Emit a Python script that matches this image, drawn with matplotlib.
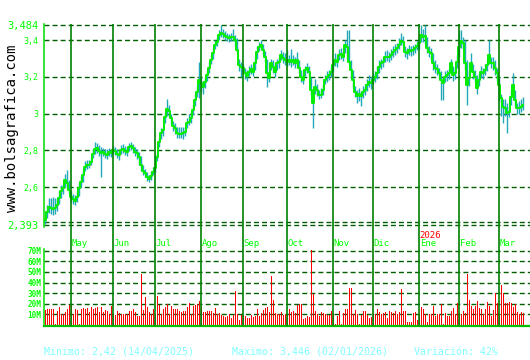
import matplotlib
matplotlib.use("Agg")
import matplotlib.pyplot as plt
import matplotlib.transforms as mtransforms
import numpy as np

# one trading day per entry, mid April 2025 -> mid March 2026
closes = [
    2.420, 2.465, 2.493, 2.484, 2.478, 2.484, 2.502, 2.538, 2.580, 2.593,
    2.638, 2.624, 2.584, 2.544, 2.535, 2.525, 2.547, 2.593, 2.629, 2.666,
    2.711, 2.720, 2.720, 2.738, 2.780, 2.806, 2.811, 2.798, 2.787, 2.793,
    2.780, 2.775, 2.793, 2.787, 2.802, 2.796, 2.780, 2.775, 2.802, 2.806,
    2.798, 2.793, 2.820, 2.824, 2.811, 2.793, 2.784, 2.765, 2.720, 2.689,
    2.678, 2.653, 2.642, 2.660, 2.684, 2.702, 2.765, 2.847, 2.893, 2.911,
    2.983, 3.024, 3.016, 2.975, 2.933, 2.920, 2.893, 2.889, 2.889, 2.893,
    2.902, 2.947, 2.956, 2.975, 3.020, 3.074, 3.120, 3.184, 3.166, 3.147,
    3.174, 3.211, 3.247, 3.293, 3.329, 3.374, 3.392, 3.429, 3.441, 3.434,
    3.423, 3.416, 3.411, 3.416, 3.420, 3.402, 3.347, 3.265, 3.256, 3.247,
    3.220, 3.205, 3.229, 3.242, 3.229, 3.275, 3.338, 3.365, 3.374, 3.347,
    3.311, 3.220, 3.193, 3.275, 3.256, 3.229, 3.275, 3.283, 3.320, 3.302,
    3.293, 3.283, 3.293, 3.283, 3.293, 3.275, 3.293, 3.247, 3.202, 3.184,
    3.238, 3.247, 3.229, 3.129, 3.056, 3.147, 3.129, 3.102, 3.102, 3.129,
    3.184, 3.198, 3.211, 3.229, 3.265, 3.293, 3.283, 3.320, 3.325, 3.311,
    3.374, 3.365, 3.283, 3.238, 3.184, 3.120, 3.096, 3.107, 3.096, 3.120,
    3.129, 3.156, 3.174, 3.166, 3.184, 3.198, 3.220, 3.256, 3.275, 3.283,
    3.307, 3.311, 3.307, 3.320, 3.338, 3.347, 3.356, 3.374, 3.398, 3.392,
    3.338, 3.329, 3.347, 3.343, 3.347, 3.356, 3.369, 3.384, 3.429, 3.420,
    3.423, 3.356, 3.338, 3.329, 3.275, 3.247, 3.242, 3.223, 3.184, 3.166,
    3.202, 3.211, 3.220, 3.275, 3.211, 3.220, 3.283, 3.365, 3.398, 3.384,
    3.275, 3.156, 3.193, 3.275, 3.229, 3.202, 3.138, 3.184, 3.229, 3.220,
    3.238, 3.265, 3.320, 3.275, 3.275, 3.247, 3.220, 3.156, 3.084, 3.035,
    3.029, 3.002, 3.011, 3.092, 3.156, 3.074, 3.029, 3.029, 3.035, 3.047,
]

highs = [
    2.440, 2.500, 2.540, 2.540, 2.545, 2.540, 2.540, 2.580, 2.610, 2.615,
    2.670, 2.693, 2.640, 2.580, 2.560, 2.555, 2.580, 2.630, 2.660, 2.690,
    2.740, 2.750, 2.750, 2.765, 2.810, 2.845, 2.840, 2.830, 2.820, 2.815,
    2.810, 2.805, 2.815, 2.810, 2.825, 2.820, 2.810, 2.800, 2.830, 2.835,
    2.825, 2.820, 2.840, 2.845, 2.835, 2.820, 2.810, 2.790, 2.770, 2.720,
    2.700, 2.680, 2.665, 2.685, 2.710, 2.720, 2.790, 2.870, 2.920, 2.930,
    3.010, 3.080, 3.050, 3.000, 2.960, 2.950, 2.930, 2.930, 2.925, 2.925,
    2.930, 2.975, 3.000, 3.010, 3.050, 3.110, 3.150, 3.283, 3.200, 3.180,
    3.200, 3.240, 3.280, 3.320, 3.360, 3.400, 3.420, 3.455, 3.483, 3.460,
    3.450, 3.440, 3.435, 3.440, 3.460, 3.430, 3.410, 3.300, 3.280, 3.270,
    3.250, 3.240, 3.260, 3.270, 3.260, 3.310, 3.370, 3.390, 3.400, 3.380,
    3.340, 3.300, 3.230, 3.300, 3.290, 3.270, 3.300, 3.310, 3.345, 3.335,
    3.330, 3.345, 3.320, 3.350, 3.320, 3.310, 3.335, 3.290, 3.240, 3.220,
    3.260, 3.275, 3.260, 3.200, 3.080, 3.190, 3.160, 3.130, 3.140, 3.160,
    3.210, 3.230, 3.240, 3.260, 3.300, 3.330, 3.320, 3.350, 3.360, 3.340,
    3.400, 3.456, 3.456, 3.290, 3.240, 3.150, 3.130, 3.140, 3.125, 3.150,
    3.160, 3.190, 3.210, 3.200, 3.220, 3.230, 3.260, 3.290, 3.300, 3.310,
    3.340, 3.345, 3.335, 3.355, 3.370, 3.380, 3.385, 3.410, 3.440, 3.425,
    3.370, 3.360, 3.375, 3.370, 3.375, 3.380, 3.395, 3.420, 3.484, 3.460,
    3.484, 3.420, 3.370, 3.360, 3.330, 3.290, 3.270, 3.250, 3.230, 3.200,
    3.230, 3.240, 3.250, 3.300, 3.260, 3.250, 3.320, 3.456, 3.456, 3.420,
    3.400, 3.290, 3.230, 3.330, 3.270, 3.240, 3.210, 3.220, 3.260, 3.250,
    3.270, 3.290, 3.400, 3.310, 3.310, 3.290, 3.250, 3.200, 3.110, 3.080,
    3.080, 3.060, 3.040, 3.130, 3.220, 3.130, 3.060, 3.070, 3.080, 3.090,
]

lows = [
    2.400, 2.430, 2.460, 2.455, 2.450, 2.455, 2.470, 2.510, 2.540, 2.560,
    2.600, 2.590, 2.560, 2.520, 2.510, 2.500, 2.520, 2.550, 2.600, 2.630,
    2.690, 2.700, 2.705, 2.720, 2.760, 2.780, 2.785, 2.770, 2.656, 2.770,
    2.760, 2.755, 2.770, 2.765, 2.780, 2.775, 2.760, 2.750, 2.780, 2.785,
    2.775, 2.770, 2.795, 2.800, 2.785, 2.770, 2.755, 2.720, 2.690, 2.665,
    2.655, 2.635, 2.630, 2.640, 2.665, 2.680, 2.740, 2.820, 2.860, 2.880,
    2.950, 2.990, 2.980, 2.940, 2.905, 2.890, 2.870, 2.865, 2.870, 2.860,
    2.880, 2.920, 2.940, 2.950, 2.995, 3.040, 3.090, 3.084, 3.120, 3.110,
    3.140, 3.180, 3.220, 3.270, 3.300, 3.350, 3.370, 3.400, 3.420, 3.410,
    3.400, 3.395, 3.390, 3.395, 3.395, 3.370, 3.330, 3.230, 3.200, 3.220,
    3.190, 3.180, 3.205, 3.215, 3.205, 3.240, 3.300, 3.340, 3.350, 3.320,
    3.280, 3.147, 3.170, 3.240, 3.220, 3.200, 3.240, 3.250, 3.290, 3.275,
    3.265, 3.260, 3.265, 3.255, 3.265, 3.250, 3.265, 3.220, 3.170, 3.160,
    3.205, 3.220, 3.200, 3.100, 2.920, 3.110, 3.095, 3.080, 3.085, 3.100,
    3.160, 3.170, 3.185, 3.200, 3.235, 3.260, 3.255, 3.290, 3.300, 3.285,
    3.330, 3.300, 3.270, 3.200, 3.140, 3.090, 3.060, 3.070, 3.040, 3.085,
    3.100, 3.125, 3.145, 3.135, 3.160, 3.170, 3.190, 3.220, 3.245, 3.255,
    3.280, 3.285, 3.280, 3.295, 3.310, 3.320, 3.330, 3.350, 3.375, 3.370,
    3.310, 3.300, 3.320, 3.315, 3.320, 3.330, 3.345, 3.355, 3.390, 3.390,
    3.380, 3.330, 3.310, 3.290, 3.240, 3.220, 3.210, 3.190, 3.074, 3.074,
    3.170, 3.180, 3.190, 3.230, 3.180, 3.190, 3.250, 3.310, 3.360, 3.350,
    3.240, 3.047, 3.150, 3.230, 3.190, 3.170, 3.110, 3.150, 3.195, 3.190,
    3.210, 3.235, 3.270, 3.250, 3.240, 3.210, 3.180, 3.070, 2.990, 2.948,
    2.990, 2.893, 2.980, 3.050, 3.100, 3.040, 3.000, 3.000, 3.010, 3.020,
]

# volume in millions of shares
volumes = [
    13.8, 14.8, 14.8, 14.8, 14.8, 0.5, 13.2, 16.7, 10.7, 10.0,
    12.3, 14.8, 18.6, 19.2, 10.7, 14.8, 13.8, 0.5, 14.8, 15.7,
    14.8, 15.7, 12.3, 16.7, 14.8, 16.4, 16.7, 12.3, 16.7, 12.3,
    13.8, 12.9, 10.0, 17.6, 10.0, 9.7, 13.2, 11.3, 10.0, 10.0,
    10.0, 10.7, 12.9, 12.9, 14.8, 11.9, 8.2, 8.2, 47.8, 13.8,
    26.1, 16.7, 11.9, 10.0, 14.8, 10.0, 27.0, 18.6, 10.0, 14.8,
    16.7, 19.5, 10.0, 17.6, 14.8, 14.8, 14.8, 12.9, 11.9, 12.9,
    12.9, 16.7, 20.4, 10.7, 17.6, 18.6, 19.5, 22.3, 16.7, 11.9,
    11.9, 12.9, 12.9, 12.9, 11.0, 15.7, 10.0, 11.0, 9.1, 8.2,
    7.2, 8.2, 10.0, 6.3, 9.1, 31.8, 10.0, 4.4, 9.1, 9.0,
    8.2, 6.3, 6.3, 9.1, 7.2, 8.2, 14.8, 8.2, 11.0, 13.8,
    15.7, 16.7, 11.9, 45.9, 23.3, 11.0, 10.0, 10.0, 11.9, 9.1,
    10.0, 9.1, 14.8, 12.3, 13.2, 11.0, 18.6, 20.1, 20.1, 5.3,
    6.3, 8.2, 7.2, 70.4, 28.9, 12.9, 10.0, 8.2, 11.9, 11.0,
    10.0, 9.1, 9.1, 12.9, 10.0, 0.5, 8.2, 12.9, 0.5, 11.0,
    14.8, 14.8, 34.6, 34.6, 10.0, 13.8, 10.0, 0.8, 9.1, 12.9,
    12.9, 9.1, 6.3, 7.2, 10.0, 10.0, 14.8, 11.9, 10.0, 11.0,
    11.9, 6.3, 12.9, 11.9, 11.0, 12.9, 10.0, 11.9, 33.6, 12.9,
    12.9, 2.5, 2.5, 2.5, 11.0, 11.9, 4.4, 10.0, 16.7, 14.8,
    10.0, 2.5, 10.0, 10.0, 17.6, 8.2, 10.0, 10.0, 19.5, 0.5,
    11.0, 8.2, 8.2, 12.9, 15.7, 10.0, 20.4, 11.0, 10.0, 12.9,
    11.0, 47.8, 23.3, 17.6, 14.8, 17.6, 22.3, 15.7, 14.8, 10.0,
    14.8, 21.4, 17.6, 8.2, 13.8, 29.9, 20.4, 10.0, 37.4, 29.9,
    20.4, 20.4, 21.4, 20.4, 16.7, 19.5, 11.9, 10.0, 11.9, 11.0,
]

# first trading day of each month (index into the arrays above)
month_starts = [13, 34, 55, 78, 99, 121, 144, 164, 187, 207, 227]
month_labels = ["May", "Jun", "Jul", "Ago", "Sep", "Oct", "Nov", "Dic", "Ene", "Feb", "Mar"]
year_mark = (187, "2026")

price_ticks = [2.393, 2.6, 2.8, 3.0, 3.2, 3.4, 3.484]
price_labels = ["2,393", "2,6", "2,8", "3", "3,2", "3,4", "3,484"]
price_grid = [2.393, 2.409, 2.6, 2.8, 3.0, 3.2, 3.4, 3.484]
vol_ticks = [10, 20, 30, 40, 50, 60, 70]
vol_labels = ["10M", "20M", "30M", "40M", "50M", "60M", "70M"]

footer = [("Minimo: 2,42 (14/04/2025)", 44),
          ("Maximo: 3,446 (02/01/2026)", 232),
          ("Variación: 42%", 414)]

GREEN = "#00ff00"
DARK = "#006000"
MONTH = "#008000"
TEAL = "#20a8b8"
RED = "#ff0000"
MONO = "DejaVu Sans Mono"

W, H = 530, 360
fig = plt.figure(figsize=(W / 100, H / 100), dpi=100)
fig.patch.set_facecolor("white")


def px_axes(left, top, right, bottom, z):
    return fig.add_axes([left / W, 1 - bottom / H, (right - left) / W, (bottom - top) / H], zorder=z)


n = len(closes)
days = np.arange(n)
xlim = (-0.5, 242.5)

# price panel
ax = px_axes(44, 24, 530, 227, 2)
ax.set_xlim(xlim)
ax.set_ylim(2.382, 3.489)
ax.patch.set_alpha(0)
for lvl in price_grid:
    ax.axhline(lvl, color=DARK, lw=1.0, dashes=(3.6, 2.2), zorder=1)
ax.vlines(days, lows, highs, colors=TEAL, linewidths=1.0, zorder=2)
ax.plot(days, closes, color="#00ee00", lw=1.4, drawstyle="steps-mid", zorder=3)
ax.set_yticks(price_ticks)
ax.set_yticklabels(price_labels)
ax.tick_params(axis="y", length=0, pad=4, colors=GREEN, labelsize=6)
for lab in ax.get_yticklabels():
    lab.set_family(MONO)
    if lab.get_text() in ("2,393", "3,484"):
        lab.set_fontsize(7.5)
ax.set_xticks([])
for s in ["top", "right", "bottom"]:
    ax.spines[s].set_visible(False)
ax.spines["left"].set_color("#00dd00")
ax.spines["left"].set_linewidth(1.1)

# volume panel
axv = px_axes(44, 249, 530, 326, 2)
axv.set_xlim(xlim)
axv.set_ylim(-1.0, 71.6)
axv.patch.set_alpha(0)
for lvl in vol_ticks:
    axv.axhline(lvl, color=DARK, lw=1.0, dashes=(3.6, 2.2), zorder=1)
axv.bar(days, volumes, width=0.5, color=RED, edgecolor="none", linewidth=0, zorder=2)
axv.set_yticks(vol_ticks)
axv.set_yticklabels(vol_labels)
axv.tick_params(axis="y", length=0, pad=2, colors=GREEN, labelsize=5.5)
for lab in axv.get_yticklabels():
    lab.set_family(MONO)
    lab.set_fontweight("bold")
axv.set_xticks([])
for s in ["top", "right"]:
    axv.spines[s].set_visible(False)
axv.spines["left"].set_color("#00dd00")
axv.spines["left"].set_linewidth(1.1)
axv.spines["bottom"].set_color("#00c000")
axv.spines["bottom"].set_linewidth(1.6)

# month separators crossing both panels
axm = px_axes(44, 24, 530, 326, 3)
axm.set_xlim(xlim)
axm.set_ylim(0, 1)
axm.axis("off")
for d in month_starts:
    axm.axvline(d, color=MONTH, lw=1.2)
trans = mtransforms.blended_transform_factory(axm.transData, fig.transFigure)
for d, lab in zip(month_starts, month_labels):
    axm.text(d + 0.4, 1 - 243.5 / H, lab, transform=trans, color=GREEN,
             fontsize=6.5, family=MONO, ha="left", va="center")
axm.text(year_mark[0] + 0.4, 1 - 235.5 / H, year_mark[1], transform=trans,
         color=RED, fontsize=6.5, family=MONO, ha="left", va="center")

fig.text(12 / W, 1 - 128 / H, "www.bolsagrafica.com", rotation=90, color="black",
         fontsize=10, family=MONO, ha="center", va="center")

for txt, x0 in footer:
    fig.text(x0 / W, 1 - 352 / H, txt, color="#80ffff", fontsize=7.2,
             family=MONO, ha="left", va="center")

fig.savefig("out.png", dpi=100, facecolor="white")
